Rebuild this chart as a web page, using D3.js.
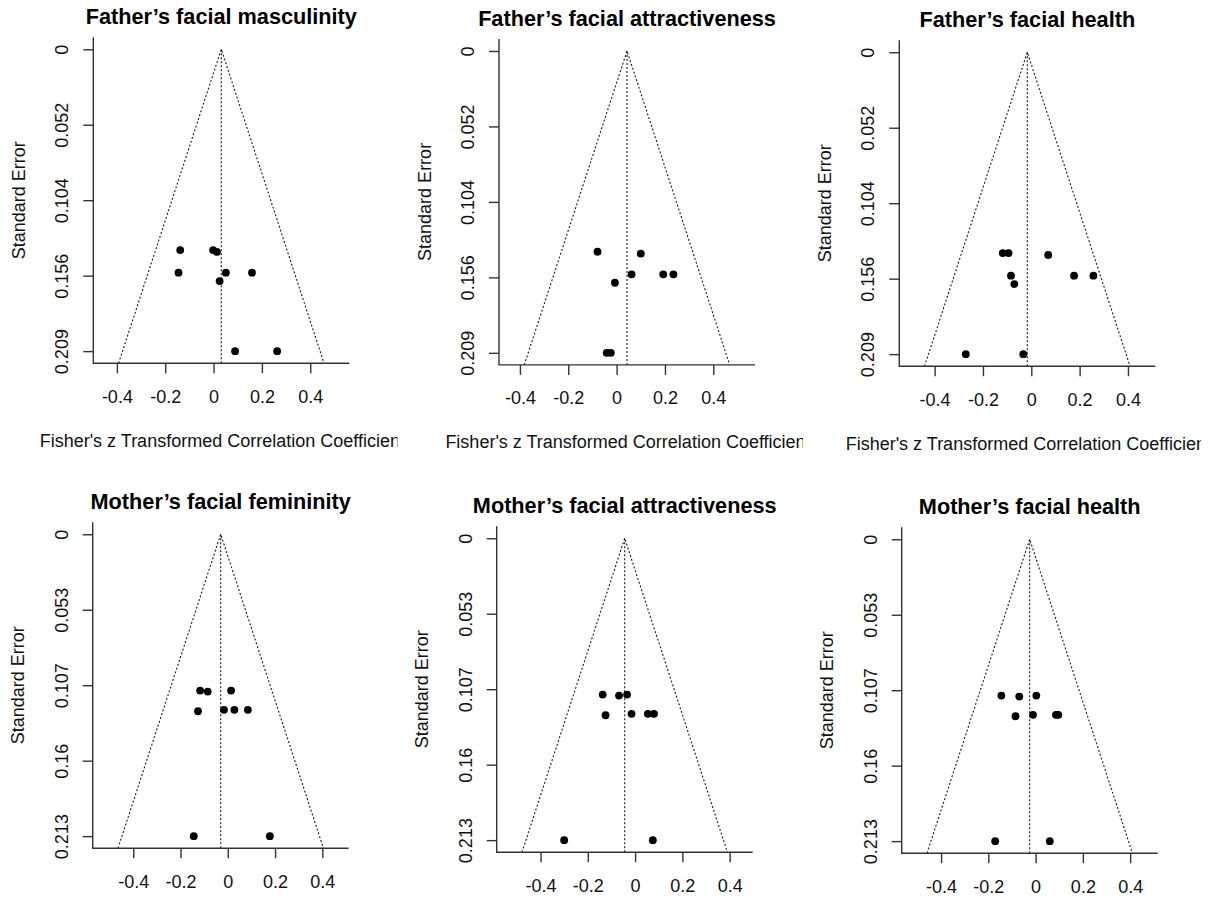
<!DOCTYPE html>
<html>
<head>
<meta charset="utf-8">
<script src="https://cdnjs.cloudflare.com/ajax/libs/d3/7.8.5/d3.min.js"></script>
<style>
  body { margin: 0; background: #fff; }
  svg { display: block; font-family: "Liberation Sans", Arial, sans-serif; }
</style>
</head>
<body>
<svg id="chart" width="1213" height="899"></svg>
<script>
// panel titles
const titles = [
    "Father\u2019s facial masculinity",
    "Father\u2019s facial attractiveness",
    "Father\u2019s facial health",
    "Mother\u2019s facial femininity",
    "Mother\u2019s facial attractiveness",
    "Mother\u2019s facial health"
];

// pooled estimate (reference line) for each panel
const refEstimates = [0.032, 0.043, -0.0165, -0.030, -0.044, -0.025];

const xTicks = [-0.4, -0.2, 0, 0.2, 0.4];
const xTickLabels = ["-0.4", "-0.2", "0", "0.2", "0.4"];
const yTickLabelsFather = ["0", "0.052", "0.104", "0.156", "0.209"];
const yTickLabelsMother = ["0", "0.053", "0.107", "0.16", "0.213"];

// Fisher's z and standard errors per study
const fatherMascZ  = [-0.138, -0.002, 0.014, -0.145, 0.051, 0.159, 0.025, 0.089, 0.263];
const fatherMascSE = [0.1387, 0.1387, 0.1400, 0.1543, 0.1543, 0.1543, 0.1601, 0.2085, 0.2085];

const fatherAttrZ  = [-0.079, 0.100, 0.062, 0.193, 0.235, -0.007, -0.041, -0.024];
const fatherAttrSE = [0.1387, 0.1400, 0.1543, 0.1543, 0.1543, 0.1601, 0.2085, 0.2085];

const fatherHealthZ  = [-0.118, -0.094, 0.070, -0.084, 0.177, 0.257, -0.070, -0.271, -0.033];
const fatherHealthSE = [0.1387, 0.1387, 0.1400, 0.1543, 0.1543, 0.1543, 0.1601, 0.2085, 0.2085];

const motherFemZ  = [-0.117, -0.085, 0.014, -0.126, -0.016, 0.028, 0.085, -0.144, 0.178];
const motherFemSE = [0.1104, 0.1111, 0.1104, 0.1250, 0.1240, 0.1240, 0.1240, 0.2132, 0.2132];

const motherAttrZ  = [-0.137, -0.068, -0.034, -0.125, -0.015, 0.054, 0.080, -0.300, 0.075];
const motherAttrSE = [0.1104, 0.1111, 0.1104, 0.1250, 0.1240, 0.1240, 0.1240, 0.2132, 0.2132];

const motherHealthZ  = [-0.145, -0.069, 0.003, -0.085, -0.011, 0.086, 0.096, -0.171, 0.060];
const motherHealthSE = [0.1104, 0.1111, 0.1104, 0.1250, 0.1240, 0.1240, 0.1240, 0.2132, 0.2132];

const panels = [
    { z: fatherMascZ,   se: fatherMascSE,   yLabels: yTickLabelsFather },
    { z: fatherAttrZ,   se: fatherAttrSE,   yLabels: yTickLabelsFather },
    { z: fatherHealthZ, se: fatherHealthSE, yLabels: yTickLabelsFather },
    { z: motherFemZ,    se: motherFemSE,    yLabels: yTickLabelsMother },
    { z: motherAttrZ,   se: motherAttrSE,   yLabels: yTickLabelsMother },
    { z: motherHealthZ, se: motherHealthSE, yLabels: yTickLabelsMother }
];

// where each plot box sits on the page
const boxes = [
    { left: 93.3,  top: 37.2,  clip: 397.5 },
    { left: 499,   top: 38.9,  clip: 803 },
    { left: 899.3, top: 40.2,  clip: 1201 },
    { left: 92.7,  top: 522.2 },
    { left: 496.7, top: 526.2 },
    { left: 901.7, top: 527.2 }
];
const W = 256, H = 326;
const crit = 1.959964;
const axisCol = "#333";

const svg = d3.select("#chart");
const defs = svg.append("defs");

panels.forEach((p, i) => {
    const b = boxes[i];
    const est = refEstimates[i];
    const maxSE = d3.max(p.se);

    // R style limits: funnel width +10% each side, then 4% padding
    let lo = est - crit * maxSE, hi = est + crit * maxSE;
    let r = hi - lo;
    lo -= r * 0.1; hi += r * 0.1;
    r = hi - lo;
    lo -= r * 0.04; hi += r * 0.04;

    const x = d3.scaleLinear().domain([lo, hi]).range([0, W]);
    const y = d3.scaleLinear().domain([-0.04 * maxSE, 1.04 * maxSE]).range([0, H]);
    const seBottom = 1.04 * maxSE;

    const g = svg.append("g").attr("transform", `translate(${b.left},${b.top})`);

    // title
    g.append("text")
        .attr("x", W / 2).attr("y", -13)
        .attr("text-anchor", "middle")
        .style("font-size", "21.7px").style("font-weight", "bold")
        .attr("fill", "#000")
        .text(titles[i]);

    // funnel
    const funnel = [
        [est - crit * seBottom, seBottom],
        [est, 0],
        [est + crit * seBottom, seBottom]
    ];
    g.append("path")
        .attr("d", d3.line().x(d => x(d[0])).y(d => y(d[1]))(funnel))
        .attr("fill", "none").attr("stroke", "#1a1a1a")
        .attr("stroke-width", 1.1).attr("stroke-dasharray", "2,2");

    g.append("line")
        .attr("x1", x(est)).attr("x2", x(est))
        .attr("y1", y(0)).attr("y2", y(seBottom))
        .attr("stroke", "#1a1a1a").attr("stroke-width", 1.1).attr("stroke-dasharray", "2,2");

    // points
    g.selectAll(".pt")
        .data(p.z.map((v, k) => [v, p.se[k]]))
        .enter().append("circle")
        .attr("class", "pt")
        .attr("cx", d => x(d[0])).attr("cy", d => y(d[1]))
        .attr("r", 3.9).attr("fill", "#000");

    // y axis (rotated labels like R)
    const yTickVals = d3.range(5).map(k => maxSE * k / 4);
    const yAxis = g.append("g")
        .call(d3.axisLeft(y).tickValues(yTickVals).tickSize(10).tickSizeOuter(0)
            .tickFormat((d, k) => p.yLabels[k]));
    yAxis.select(".domain").remove();
    yAxis.selectAll(".tick line").attr("stroke", axisCol).attr("stroke-width", 1.4);
    yAxis.selectAll(".tick text")
        .attr("x", null).attr("dy", null)
        .attr("transform", "translate(-25,0) rotate(-90)")
        .attr("text-anchor", "middle")
        .style("font-size", "18px").attr("fill", "#111");

    // x axis
    const xAxis = g.append("g")
        .attr("transform", `translate(0,${H})`)
        .call(d3.axisBottom(x).tickValues(xTicks).tickSize(10).tickSizeOuter(0)
            .tickFormat((d, k) => xTickLabels[k]));
    xAxis.select(".domain").remove();
    xAxis.selectAll(".tick line").attr("stroke", axisCol).attr("stroke-width", 1.4);
    xAxis.selectAll(".tick text")
        .attr("y", 39.4).attr("dy", null)
        .style("font-size", "18px").attr("fill", "#111");

    // L-shaped box
    g.append("path")
        .attr("d", `M0,0V${H}H${W}`)
        .attr("fill", "none").attr("stroke", axisCol).attr("stroke-width", 1.4);

    // y axis title
    g.append("text")
        .attr("transform", `translate(-68.3,${H / 2}) rotate(-90)`)
        .attr("text-anchor", "middle")
        .style("font-size", "18px").attr("fill", "#111")
        .text("Standard Error");

    // x axis title, cut at the right like the original crops
    if (b.clip) {
        const cid = "clip" + i;
        defs.append("clipPath").attr("id", cid)
            .append("rect")
            .attr("x", -b.left).attr("y", H)
            .attr("width", b.clip).attr("height", 120);
        g.append("text")
            .attr("clip-path", `url(#${cid})`)
            .attr("x", W / 2 + 1).attr("y", H + 83.4)
            .attr("text-anchor", "middle")
            .style("font-size", "18px").attr("fill", "#111")
            .text("Fisher's z Transformed Correlation Coefficient");
    }
});
</script>
</body>
</html>
